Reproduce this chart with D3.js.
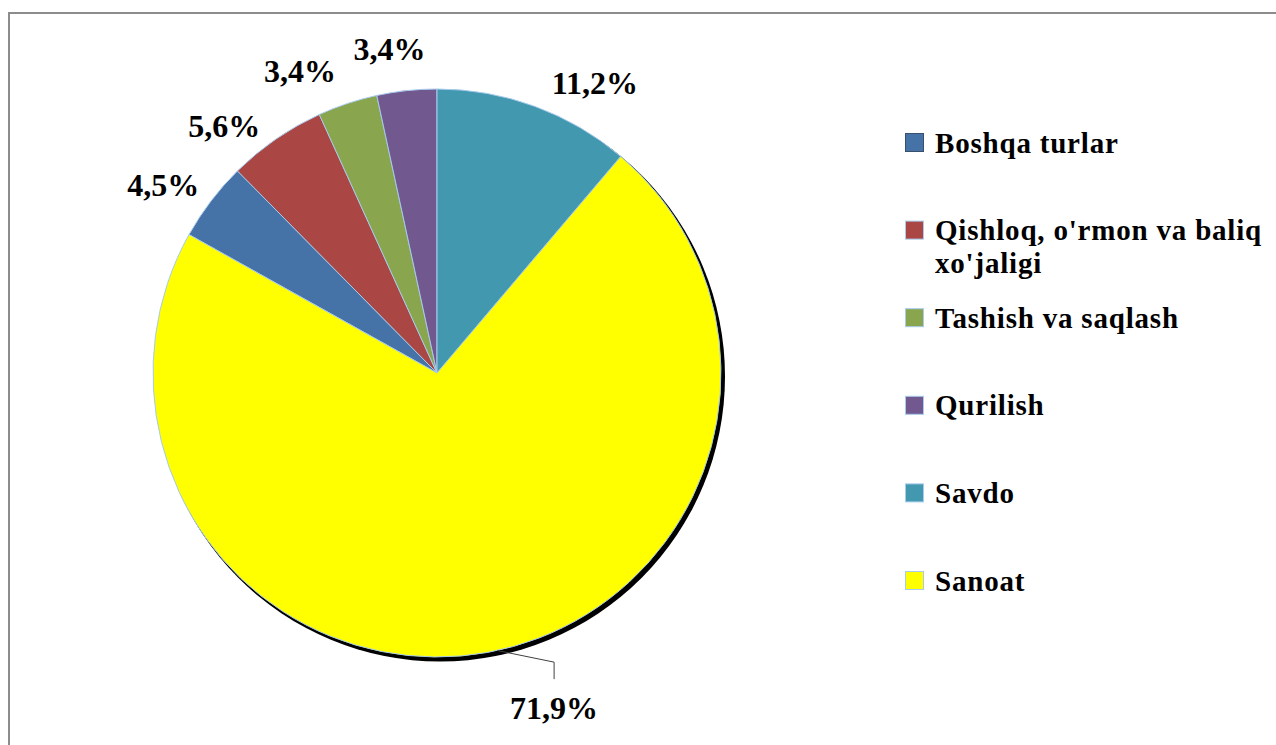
<!DOCTYPE html>
<html>
<head>
<meta charset="utf-8">
<script src="https://cdnjs.cloudflare.com/ajax/libs/d3/7.8.5/d3.min.js"></script>
<style>
  html, body { margin: 0; padding: 0; background: #ffffff; }
  svg { display: block; }
  .pieLabel { font-family: 'Liberation Serif', 'Times New Roman', serif; font-weight: bold; font-size: 32px; fill: #000; }
  .legendText { font-family: 'Liberation Serif', 'Times New Roman', serif; font-weight: bold; font-size: 29px; letter-spacing: 0.8px; fill: #000; }
</style>
</head>
<body>
<div id="chart"></div>
<script>
// data, legend order
var categories = [
  'Boshqa turlar',
  "Qishloq, o'rmon va baliq xo'jaligi",
  'Tashish va saqlash',
  'Qurilish',
  'Savdo',
  'Sanoat'
];
var values = [ 4.5, 5.6, 3.4, 3.4, 11.2, 71.9 ];
var valueLabels = [ '4,5%', '5,6%', '3,4%', '3,4%', '11,2%', '71,9%' ];

// legend text split into lines
var legendLines = [
  [ 'Boshqa turlar' ],
  [ "Qishloq, o'rmon va baliq", "xo'jaligi" ],
  [ 'Tashish va saqlash' ],
  [ 'Qurilish' ],
  [ 'Savdo' ],
  [ 'Sanoat' ]
];

var colors = [ '#4572a7', '#aa4643', '#89a54e', '#71588f', '#4198af', '#ffff00' ];

// layout
var width  = 1276,
    height = 745,
    pie = { cx: 437, cy: 373, r: 284 },
    // excel best-fit moved the labels a bit off the slice middle (degrees)
    labelNudge = [ -2.8, -6.2, -6, -2.2, 8.4, -9 ],
    labelGap   = [ 48, 42, 48, 44, 46, 71 ],
    legend = { x: 905, y: 143, step: 87.6, box: 19, textX: 935, lineHeight: 33 };

var svg = d3.select( '#chart' ).append( 'svg' )
  .attr( 'width', width )
  .attr( 'height', height );

// chart area border
svg.append( 'rect' )
  .attr( 'x', 9 )
  .attr( 'y', 13 )
  .attr( 'width', width + 20 )
  .attr( 'height', height + 20 )
  .attr( 'fill', 'none' )
  .attr( 'stroke', '#8c8c8c' )
  .attr( 'stroke-width', 2 );

// start so that Savdo begins at 12 o'clock
var before = d3.sum( values.slice( 0, 4 ) ),
    total  = d3.sum( values ),
    start  = -before / total * 2 * Math.PI;

var pieLayout = d3.pie()
  .sort( null )
  .value( function( d ) { return d; } )
  .startAngle( start )
  .endAngle( start + 2 * Math.PI );

var arcs = pieLayout( values );

var arc = d3.arc()
  .innerRadius( 0 )
  .outerRadius( pie.r );

var pieGroup = svg.append( 'g' )
  .attr( 'transform', 'translate(' + pie.cx + ',' + pie.cy + ')' );

// shadow
pieGroup.append( 'circle' )
  .attr( 'cx', 3 )
  .attr( 'cy', 3.5 )
  .attr( 'r', pie.r + 1 )
  .attr( 'fill', '#000' );

pieGroup.selectAll( '.slice' )
  .data( arcs )
  .enter().append( 'path' )
  .attr( 'class', 'slice' )
  .attr( 'd', arc )
  .attr( 'fill', function( d, i ) { return colors[ i ]; } )
  .attr( 'stroke', '#a8cbee' )
  .attr( 'stroke-width', 1 )
  .attr( 'stroke-linejoin', 'round' );

function labelPoint( d, i ) {
  var mid = ( d.startAngle + d.endAngle ) / 2 + labelNudge[ i ] * Math.PI / 180,
      r = pie.r + labelGap[ i ];
  return [ Math.sin( mid ) * r, -Math.cos( mid ) * r ];
}

// leader line for the big slice
arcs.forEach( function( d, i ) {
  if ( labelGap[ i ] > 60 ) {
    var mid = ( d.startAngle + d.endAngle ) / 2 - 2 * Math.PI / 180,
        p0 = [ Math.sin( mid ) * pie.r, -Math.cos( mid ) * pie.r ],
        lp = labelPoint( d, i );
    pieGroup.append( 'path' )
      .attr( 'd', 'M' + p0[ 0 ] + ',' + p0[ 1 ] +
                  ' L' + lp[ 0 ] + ',' + ( lp[ 1 ] - 46 ) +
                  ' L' + lp[ 0 ] + ',' + ( lp[ 1 ] - 29 ) )
      .attr( 'fill', 'none' )
      .attr( 'stroke', '#404040' )
      .attr( 'stroke-width', 1 );
  }
} );

pieGroup.selectAll( '.pieLabel' )
  .data( arcs )
  .enter().append( 'text' )
  .attr( 'class', 'pieLabel' )
  .attr( 'text-anchor', 'middle' )
  .attr( 'dy', '0.35em' )
  .attr( 'transform', function( d, i ) {
    return 'translate(' + labelPoint( d, i ) + ')';
  } )
  .text( function( d, i ) { return valueLabels[ i ]; } );

// legend
var legendGroup = svg.append( 'g' ).attr( 'class', 'legend' );

var item = legendGroup.selectAll( '.item' )
  .data( categories )
  .enter().append( 'g' )
  .attr( 'class', 'item' )
  .attr( 'transform', function( d, i ) {
    return 'translate(0,' + ( legend.y + i * legend.step ) + ')';
  } );

item.append( 'rect' )
  .attr( 'x', legend.x + 0.5 )
  .attr( 'y', -legend.box / 2 )
  .attr( 'width', legend.box - 1 )
  .attr( 'height', legend.box - 1 )
  .attr( 'fill', function( d, i ) { return colors[ i ]; } )
  .attr( 'stroke', function( d, i ) { return i === 0 ? '#3a4f6a' : '#a8cbee'; } )
  .attr( 'stroke-width', 1 );

item.each( function( d, i ) {
  var t = d3.select( this ).append( 'text' )
    .attr( 'class', 'legendText' )
    .attr( 'x', legend.textX )
    .attr( 'y', legend.box / 2 );
  legendLines[ i ].forEach( function( line, j ) {
    t.append( 'tspan' )
      .attr( 'x', legend.textX )
      .attr( 'dy', j === 0 ? 0 : legend.lineHeight )
      .text( line );
  } );
} );
</script>
</body>
</html>
